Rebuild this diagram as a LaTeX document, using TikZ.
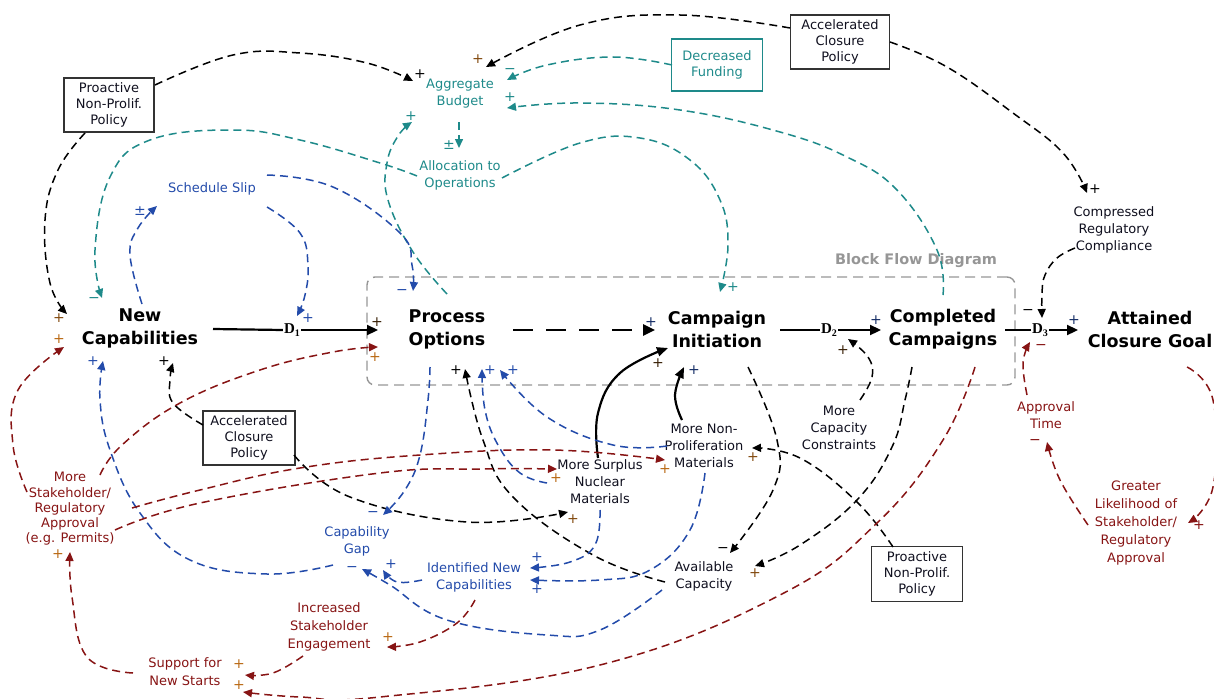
\documentclass[tikz,border=0pt]{standalone}
\usepackage{fontspec}
\setmainfont{DejaVu Sans}
\newfontfamily\dfont{Liberation Serif}
\usetikzlibrary{arrows.meta,calc}
\definecolor{tealc}{RGB}{30,138,138}
\definecolor{bluec}{RGB}{35,75,170}
\definecolor{redc}{RGB}{135,20,20}
\definecolor{orc}{RGB}{185,105,20}
\definecolor{txt}{RGB}{15,15,30}
\definecolor{bfdg}{RGB}{150,150,150}
\begin{document}
\begin{tikzpicture}[x=1pt,y=-1pt,
  lbl/.style={font=\fontsize{13}{17}\selectfont, align=center, inner sep=1pt, text=txt},
  big/.style={font=\fontsize{17.5}{23}\selectfont\bfseries, align=center, inner sep=1pt, text=black},
  pbox/.style={font=\fontsize{13}{16}\selectfont, align=center, inner sep=1pt, text=txt, draw=black!80, line width=1.5pt, minimum height=54pt},
  dlab/.style={font=\dfont\fontsize{15}{15}\selectfont\bfseries, inner sep=1pt},
  sg/.style={font=\fontsize{14}{14}\selectfont, inner sep=0pt},
  lk/.style={line width=1.5pt, dash pattern=on 8pt off 5pt, -{Triangle[length=9pt,width=8pt]}},
  lkb/.style={lk, draw=black},
  lkt/.style={lk, draw=tealc, -{Triangle[length=9pt,width=8pt,fill=tealc]}},
  lkbl/.style={lk, draw=bluec, -{Triangle[length=9pt,width=8pt,fill=bluec]}},
  lkr/.style={lk, draw=redc, -{Triangle[length=9pt,width=8pt,fill=redc]}},
  solid1/.style={line width=2.2pt, -{Triangle[length=11pt,width=10pt]}},
  solidc/.style={line width=2.2pt, -{Triangle[length=11pt,width=9pt]}},
  sm/.style={smooth, tension=0.7}
]
\useasboundingbox (0,0) rectangle (1214,698);

% block flow diagram frame
\node[draw=bfdg, line width=1.4pt, dash pattern=on 10pt off 6pt, rounded corners=8pt,
      minimum width=648pt, minimum height=108pt, inner sep=0pt] (bfd) at (691,331) {};
\node[font=\fontsize{14.5}{15}\selectfont\bfseries, text=bfdg, inner sep=0pt] (bfdl) at (916,261) {Block Flow Diagram};

% nodes
\node[pbox, minimum width=90pt] (pol1) at (109,105) {Proactive\\Non-Prolif.\\Policy};
\node[lbl, text=tealc] (agg) at (460,94) {Aggregate\\Budget};
\node[pbox, minimum width=91pt, minimum height=52pt, draw=tealc, text=tealc] (fund) at (717,65) {Decreased\\Funding};
\node[pbox, minimum width=99pt] (acc1) at (840,42) {Accelerated\\Closure\\Policy};
\node[lbl, text=tealc] (alloc) at (460,175) {Allocation to\\Operations};
\node[lbl, text=bluec] (slip) at (212,189) {Schedule Slip};
\node[lbl] (comp) at (1114,230) {Compressed\\Regulatory\\Compliance};
\node[big] (newcap) at (140,328) {New\\Capabilities};
\node[big] (proc) at (447,329) {Process\\Options};
\node[big] (camp) at (717,329) {Campaign\\Initiation};
\node[big] (compl) at (943,329) {Completed\\Campaigns};
\node[big] (goal) at (1150,329) {Attained\\Closure Goal};
\node[dlab] (D1) at (292,330) {D\raisebox{-3pt}{\fontsize{10}{10}\selectfont 1}};
\node[dlab] (D2) at (829,330) {D\raisebox{-3pt}{\fontsize{10}{10}\selectfont 2}};
\node[dlab] (D3) at (1040,330) {D\raisebox{-3pt}{\fontsize{10}{10}\selectfont 3}};
\node[pbox, minimum width=92pt] (acc2) at (249,438) {Accelerated\\Closure\\Policy};
\node[lbl] (nonprol) at (704,446) {More Non-\\Proliferation\\Materials};
\node[lbl] (capcon) at (839,428) {More\\Capacity\\Constraints};
\node[lbl, text=redc] (apptime) at (1046,415) {Approval\\Time};
\node[lbl, text=redc, font=\fontsize{13}{15.2}\selectfont] (stake) at (70,509) {More\\Stakeholder/\\Regulatory\\Approval\\(e.g. Permits)};
\node[lbl] (surplus) at (600,482) {More Surplus\\Nuclear\\Materials};
\node[lbl, text=redc, font=\fontsize{13}{18}\selectfont] (greater) at (1136,523) {Greater\\Likelihood of\\Stakeholder/\\Regulatory\\Approval};
\node[lbl, text=bluec] (capgap) at (357,541) {Capability\\Gap};
\node[pbox, minimum width=91pt, minimum height=55pt] (pol3) at (917,574) {Proactive\\Non-Prolif.\\Policy};
\node[lbl] (avail) at (704,576) {Available\\Capacity};
\node[lbl, text=bluec] (idnew) at (474,577) {Identified New\\Capabilities};
\node[lbl, text=redc, font=\fontsize{13}{18}\selectfont] (engage) at (329,627) {Increased\\Stakeholder\\Engagement};
\node[lbl, text=redc, font=\fontsize{13}{18}\selectfont] (support) at (185,672) {Support for\\New Starts};

% ---------- solid main chain
\draw[line width=2.2pt] ($(newcap)+(73,1)$) -- (D1.west);
\draw[solid1] (D1.east) -- ($(proc)+(-69,1)$);
\draw[line width=2.6pt, dash pattern=on 20pt off 13pt, -{Triangle[length=12pt,width=11pt]}] ($(proc)+(66,1)$) -- ($(camp)+(-62,1)$);
\draw[line width=2.2pt] ($(camp)+(63,1)$) -- (D2.west);
\draw[solid1] (D2.east) -- ($(compl)+(-62,1)$);
\draw[line width=2.2pt] ($(compl)+(62,1)$) -- (D3.west);
\draw[solid1] (D3.east) -- ($(goal)+(-72,1)$);

% solid curves into Campaign Initiation
\draw[solidc] plot[sm] coordinates {($(surplus)+(-2,-24)$) (598,413) (620,373) ($(camp)+(-49,19)$)};
\draw[solidc] plot[sm] coordinates {($(nonprol)+(-22,-26)$) (675,395) ($(camp)+(-33,38)$)};

% ---------- black dashed
\draw[lkb] plot[sm] coordinates {($(pol1)+(46,-20)$) (233,55) (300,53) (367,63) ($(agg)+(-47,-13)$)};
\draw[lkb] plot[sm] coordinates {($(pol1)+(-24,28)$) (58,170) (45,220) (50,283) ($(newcap)+(-73,-14)$)};
\draw[lkb] plot[sm] coordinates {($(acc1)+(-50,-14)$) (680,15) (580,25) ($(agg)+(26,-27)$)};
\draw[lkb] plot[sm] coordinates {($(acc1)+(50,0)$) (947,67) (1013,113) (1063,153) ($(comp)+(-27,-37)$)};
\draw[lkb] plot[sm] coordinates {($(comp)+(-39,18)$) (1057,258) (1045,275) (1042,293) ($(D3)+(2,-12)$)};
\draw[lkb] plot[sm] coordinates {($(acc2)+(-46,-13)$) (173,403) (170,380) ($(newcap)+(33,35)$)};
\draw[lkb] plot[sm] coordinates {($(acc2)+(45,17)$) (350,497) (467,522) ($(surplus)+(-32,30)$)};
\draw[lkb] plot[sm] coordinates {($(capcon)+(21,-28)$) (872,377) (868,357) ($(D2)+(19,9)$)};
\draw[lkb] plot[sm] coordinates {($(pol3)+(-24,-27)$) (857,502) (800,458) ($(nonprol)+(48,2)$)};
\draw[lkb] plot[sm] coordinates {($(camp)+(31,38)$) (777,440) (773,490) ($(avail)+(26,-23)$)};
\draw[lkb] plot[sm] coordinates {($(compl)+(-31,38)$) (905,400) (892,447) (857,500) (800,545) ($(avail)+(51,-10)$)};
\draw[lkb] plot[sm] coordinates {($(avail)+(-39,6)$) (593,555) (513,497) (483,440) ($(proc)+(18,40)$)};

% ---------- teal dashed
\draw[lkt] plot[sm] coordinates {($(fund)+(-45,0)$) (613,57) (547,65) ($(agg)+(47,-14)$)};
\draw[lkt] plot[sm] coordinates {($(compl)+(0,-34)$) (937,250) (897,190) (847,157) (780,132) (680,110) (580,103) ($(agg)+(47,14)$)};
\draw[lkt] ($(agg)+(-1,28)$) -- ($(alloc)+(-1,-27)$);
\draw[lkt] plot[sm] coordinates {($(alloc)+(42,3)$) (580,143) (640,138) (690,160) (720,200) (728,245) ($(camp)+(3,-37)$)};
\draw[lkt] plot[sm] coordinates {($(alloc)+(-43,1)$) (380,163) (300,140) (233,130) (150,140) (110,177) (95,250) ($(newcap)+(-38,-30)$)};
\draw[lkt] plot[sm] coordinates {($(proc)+(0,-35)$) (413,252) (388,200) (387,163) (398,136) ($(agg)+(-48,28)$)};

% ---------- blue dashed
\draw[lkbl] plot[sm] coordinates {($(newcap)+(2,-24)$) (130,255) (138,228) ($(slip)+(-55,17)$)};
\draw[lkbl] plot[sm] coordinates {($(slip)+(55,18)$) (300,233) (308,265) (305,295) ($(D1)+(5,-14)$)};
\draw[lkbl] plot[sm] coordinates {($(slip)+(55,-14)$) (333,187) (400,233) (412,265) ($(proc)+(-34,-38)$)};
\draw[lkbl] plot[sm] coordinates {($(proc)+(-17,38)$) (428,400) (420,455) (405,490) ($(capgap)+(26,-26)$)};
\draw[lkbl] plot[sm] coordinates {($(capgap)+(-24,24)$) (267,574) (190,560) (140,513) (110,450) (100,400) ($(newcap)+(-37,33)$)};
\draw[lkbl] plot[sm] coordinates {($(idnew)+(-52,3)$) (397,582) ($(capgap)+(26,29)$)};
\draw[lkbl] plot[sm] coordinates {($(avail)+(-42,14)$) (600,630) (547,635) (447,620) (390,585) ($(capgap)+(5,28)$)};
\draw[lkbl] plot[sm] coordinates {($(surplus)+(0,28)$) (595,545) (570,562) ($(idnew)+(56,-9)$)};
\draw[lkbl] plot[sm] coordinates {($(nonprol)+(1,27)$) (690,530) (650,570) (600,580) ($(idnew)+(56,3)$)};
\draw[lkbl] plot[sm] coordinates {($(nonprol)+(-37,0)$) (613,445) (547,417) ($(proc)+(53,41)$)};
\draw[lkbl] plot[sm] coordinates {($(surplus)+(-53,1)$) (520,473) (498,445) (485,410) ($(proc)+(35,40)$)};

% ---------- red dashed
\draw[lkr] plot[sm] coordinates {($(compl)+(32,38)$) (943,440) (877,523) (780,595) (600,665) (380,697) (300,697) ($(support)+(58,20)$)};
\draw[lkr] plot[sm] coordinates {($(engage)+(-26,29)$) (273,673) ($(support)+(60,3)$)};
\draw[lkr] plot[sm] coordinates {($(idnew)+(1,23)$) (457,623) (420,642) ($(engage)+(58,20)$)};
\draw[lkr] plot[sm] coordinates {($(support)+(-52,1)$) (87,657) (72,597) ($(stake)+(0,43)$)};
\draw[lkr] plot[sm] coordinates {($(stake)+(-43,-17)$) (13,445) (18,390) ($(newcap)+(-76,19)$)};
\draw[lkr] plot[sm] coordinates {($(stake)+(30,-34)$) (122,445) (180,403) (260,370) (333,352) ($(proc)+(-69,18)$)};
\draw[lkr] plot[sm] coordinates {($(stake)+(62,-1)$) (200,490) (300,468) (420,455) (553,450) ($(nonprol)+(-39,14)$)};
\draw[lkr] plot[sm] coordinates {($(stake)+(45,21)$) (200,503) (380,473) (480,469) ($(surplus)+(-43,-13)$)};
\draw[lkr] plot[sm] coordinates {($(goal)+(37,38)$) (1213,400) (1213,487) ($(greater)+(52,0)$)};
\draw[lkr] plot[sm] coordinates {($(greater)+(-48,2)$) (1060,480) ($(apptime)+(1,27)$)};
\draw[lkr] plot[sm] coordinates {($(apptime)+(-19,-20)$) (1023,363) ($(D3)+(-10,12)$)};

% ---------- polarity signs
\node[sg] (s1) at (420,74) {+};
\node[sg, text=orc!70!black] (s2) at (478,59) {+};
\node[sg, text=tealc] (s3) at (510,71) {−};
\node[sg, text=tealc] (s4) at (510,97) {+};
\node[sg, text=tealc] (s5) at (411,116) {+};
\node[sg, text=tealc] (s6) at (449,145) {±};
\node[sg, text=bluec] (s7) at (140,211) {±};
\node[sg, text=orc!70!black] (s8) at (59,318) {+};
\node[sg, text=tealc] (s9) at (94,300) {−};
\node[sg, text=orc] (s10) at (59,339) {+};
\node[sg, text=bluec] (s11) at (93,361) {+};
\node[sg] (s12) at (164,361) {+};
\node[sg, text=bluec] (s13) at (308,318) {+};
\node[sg, text=bluec] (s14) at (402,292) {−};
\node[sg, text=black!70!orc] (s15) at (377,322) {+};
\node[sg, text=orc] (s16) at (375,357) {+};
\node[sg, text=tealc] (s17) at (733,287) {+};
\node[sg, text=bluec!60!black] (s18) at (651,322) {+};
\node[sg] (s19) at (456,370) {+};
\node[sg, text=bluec] (s20) at (490,370) {+};
\node[sg, text=bluec] (s21) at (513,370) {+};
\node[sg, text=black!70!orc] (s22) at (658,363) {+};
\node[sg, text=bluec!60!black] (s23) at (694,370) {+};
\node[sg, text=bluec!60!black] (s24) at (876,320) {+};
\node[sg, text=black!70!orc] (s25) at (843,350) {+};
\node[sg] (s26) at (1028,312) {−};
\node[sg, text=bluec!60!black] (s27) at (1074,320) {+};
\node[sg, text=redc] (s28) at (1041,347) {−};
\node[sg] (s29) at (1095,189) {+};
\node[sg, text=redc] (s30) at (1035,442) {−};
\node[sg, text=redc] (s31) at (1199,525) {+};
\node[sg, text=orc] (s32) at (665,469) {+};
\node[sg, text=orc] (s33) at (556,478) {+};
\node[sg, text=orc!70!black] (s34) at (753,457) {+};
\node[sg, text=orc!70!black] (s35) at (573,519) {+};
\node[sg, text=bluec] (s36) at (373,514) {−};
\node[sg, text=bluec] (s37) at (391,564) {+};
\node[sg, text=bluec] (s38) at (352,569) {−};
\node[sg, text=bluec] (s39) at (537,557) {+};
\node[sg, text=bluec] (s40) at (537,589) {+};
\node[sg] (s41) at (723,550) {−};
\node[sg, text=orc!70!black] (s42) at (755,573) {+};
\node[sg, text=orc] (s43) at (388,637) {+};
\node[sg, text=orc] (s44) at (239,664) {+};
\node[sg, text=orc] (s45) at (239,685) {+};
\node[sg, text=orc] (s46) at (58,554) {+};
\end{tikzpicture}
\end{document}
